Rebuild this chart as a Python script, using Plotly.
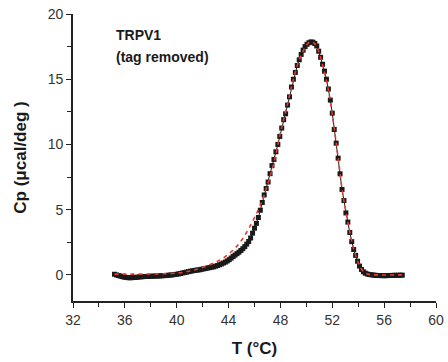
import plotly.graph_objects as go

# Measured DSC data (T in °C, Cp in µcal/deg)
T_data = [
    35.2, 35.35, 35.5, 35.65, 35.8, 35.95, 36.1, 36.25, 36.4, 36.55,
    36.7, 36.85, 37.0, 37.15, 37.3, 37.45, 37.6, 37.75, 37.9, 38.05,
    38.2, 38.35, 38.5, 38.65, 38.8, 38.95, 39.1, 39.25, 39.4, 39.55,
    39.7, 39.85, 40.0, 40.15, 40.3, 40.45, 40.6, 40.75, 40.9, 41.05,
    41.2, 41.35, 41.5, 41.65, 41.8, 41.95, 42.1, 42.25, 42.4, 42.55,
    42.7, 42.85, 43.0, 43.15, 43.3, 43.45, 43.6, 43.75, 43.9, 44.05,
    44.2, 44.35, 44.5, 44.65, 44.8, 44.95, 45.1, 45.25, 45.4, 45.55,
    45.7, 45.85, 46.0, 46.15, 46.3, 46.45, 46.6, 46.75, 46.9, 47.05,
    47.2, 47.35, 47.5, 47.65, 47.8, 47.95, 48.1, 48.25, 48.4, 48.55,
    48.7, 48.85, 49.0, 49.15, 49.3, 49.45, 49.6, 49.75, 49.9, 50.05,
    50.2, 50.35, 50.5, 50.65, 50.8, 50.95, 51.1, 51.25, 51.4, 51.55,
    51.7, 51.85, 52.0, 52.15, 52.3, 52.45, 52.6, 52.75, 52.9, 53.05,
    53.2, 53.35, 53.5, 53.65, 53.8, 53.95, 54.1, 54.25, 54.4, 54.55,
    54.7, 54.85, 55.0, 55.15, 55.3, 55.45, 55.6, 55.75, 55.9, 56.05,
    56.2, 56.35, 56.5, 56.65, 56.8, 56.95, 57.1, 57.25, 57.4,
]
Cp_data = [
    0.05, 0.0, -0.05, -0.09, -0.13, -0.17, -0.19, -0.21, -0.22, -0.21,
    -0.2, -0.19, -0.17, -0.15, -0.14, -0.13, -0.12, -0.12, -0.11, -0.1,
    -0.1, -0.09, -0.08, -0.08, -0.07, -0.06, -0.05, -0.04, -0.02, -0.01,
    0.01, 0.03, 0.05, 0.08, 0.11, 0.15, 0.18, 0.21, 0.25, 0.28,
    0.31, 0.34, 0.36, 0.38, 0.40, 0.44, 0.47, 0.50, 0.53, 0.56,
    0.59, 0.62, 0.67, 0.72, 0.78, 0.84, 0.91, 0.98, 1.07, 1.17,
    1.29, 1.41, 1.52, 1.63, 1.74, 1.87, 2.01, 2.17, 2.36, 2.56,
    2.83, 3.2, 3.58, 3.95, 4.4, 4.96, 5.55, 6.13, 6.62, 7.12,
    7.76, 8.38, 8.85, 9.44, 10.0, 10.62, 11.26, 11.9, 12.35, 13.02,
    13.65, 14.4, 15.0, 15.52, 16.05, 16.49, 16.9, 17.23, 17.5, 17.68,
    17.8, 17.86, 17.84, 17.74, 17.55, 17.15, 16.68, 16.15, 15.62, 15.0,
    14.25, 13.4, 12.4, 11.15, 10.1, 8.95, 7.75, 6.55, 5.7, 4.75,
    4.05, 3.25, 2.55, 1.95, 1.5, 1.05, 0.68, 0.42, 0.24, 0.13,
    0.07, 0.03, 0.01, -0.01, -0.03, -0.04, -0.05, -0.05, -0.06, -0.06,
    -0.05, -0.05, -0.04, -0.04, -0.03, -0.03, -0.03, -0.02, -0.02,
]

# Fitted curve (red dashed)
T_fit = [
    35.2, 36.0, 37.0, 38.0, 39.0, 40.0, 40.5, 41.0, 41.5, 42.0,
    42.5, 43.0, 43.5, 44.0, 44.5, 45.0, 45.5, 46.0, 46.5, 47.0,
    47.5, 48.0, 48.5, 49.0, 49.5, 50.0, 50.25, 50.5, 50.75, 51.0,
    51.25, 51.5, 51.75, 52.0, 52.25, 52.5, 52.75, 53.0, 53.25, 53.5,
    53.75, 54.0, 54.25, 54.5, 54.75, 55.0, 55.5, 56.0, 56.5, 57.0, 57.5,
]
Cp_fit = [
    0.06, 0.06, 0.06, 0.07, 0.09, 0.14, 0.2, 0.3, 0.42, 0.57,
    0.76, 0.98, 1.24, 1.6, 2.05, 2.65, 3.45, 4.4, 5.45, 6.9,
    8.6, 10.9, 12.9, 15.0, 16.6, 17.6, 17.85, 17.85, 17.6, 17.0,
    16.1, 15.1, 13.9, 12.3, 10.5, 8.6, 6.6, 5.1, 3.8, 2.6,
    1.65, 0.95, 0.45, 0.18, 0.06, 0.01, 0.0, -0.01, -0.01, 0.0, 0.0,
]

x_ticks = [32, 36, 40, 44, 48, 52, 56, 60]
y_ticks = [0, 5, 10, 15, 20]
label_lines = ["TRPV1", "(tag removed)"]

FONT = "Liberation Sans, Arial, sans-serif"

fig = go.Figure()
fig.add_trace(go.Scatter(
    x=T_data, y=Cp_data, mode="lines+markers",
    line=dict(color="#1a1a1a", width=1),
    marker=dict(symbol="square", size=5, color="#1a1a1a"),
    showlegend=False, cliponaxis=False,
))
fig.add_trace(go.Scatter(
    x=T_fit, y=Cp_fit, mode="lines",
    line=dict(color="#e8392e", width=1.6, dash="4px,4px", shape="spline"),
    showlegend=False,
))

axis_common = dict(
    showline=True, linecolor="#222222", linewidth=1.6,
    ticks="outside", ticklen=5, tickwidth=1.4, tickcolor="#222222",
    showgrid=False, zeroline=False, mirror=False, automargin=False,
    tickfont=dict(family=FONT, size=14, color="#333333"),
)

fig.update_xaxes(
    range=[32, 60], tickvals=x_ticks, ticktext=[str(v) for v in x_ticks],
    minor=dict(dtick=2, tick0=32, ticks="outside", ticklen=4, tickwidth=1.4, tickcolor="#222222"),
    title=dict(text="<b>T (°C)</b>", font=dict(family=FONT, size=17, color="#1a1a1a"), standoff=16),
    **axis_common,
)
fig.update_yaxes(
    range=[-2, 20], tickvals=y_ticks, ticktext=[str(v) for v in y_ticks],
    minor=dict(dtick=2.5, tick0=0, ticks="outside", ticklen=4, tickwidth=1.4, tickcolor="#222222"),
    title=dict(text="<b>Cp (μcal/deg )</b>", font=dict(family=FONT, size=17, color="#1a1a1a"), standoff=17),
    **axis_common,
)

for i, line in enumerate(label_lines):
    fig.add_annotation(
        xref="paper", yref="paper", x=0.113, y=(14 + 21 + 22 * i - 14) * -1 / 287 + 1,
        xanchor="left", yanchor="middle",
        text=f"<b>{line}</b>", align="left", showarrow=False,
        font=dict(family=FONT, size=14, color="#1a1a1a"),
    )

fig.update_layout(
    width=448, height=362,
    margin=dict(l=73, r=12, t=14, b=61),
    paper_bgcolor="white", plot_bgcolor="white",
)

fig.write_html(
    "out.html",
    config={"displayModeBar": False},
    post_script="document.body.style.margin='0';document.body.style.overflow='hidden';",
)
